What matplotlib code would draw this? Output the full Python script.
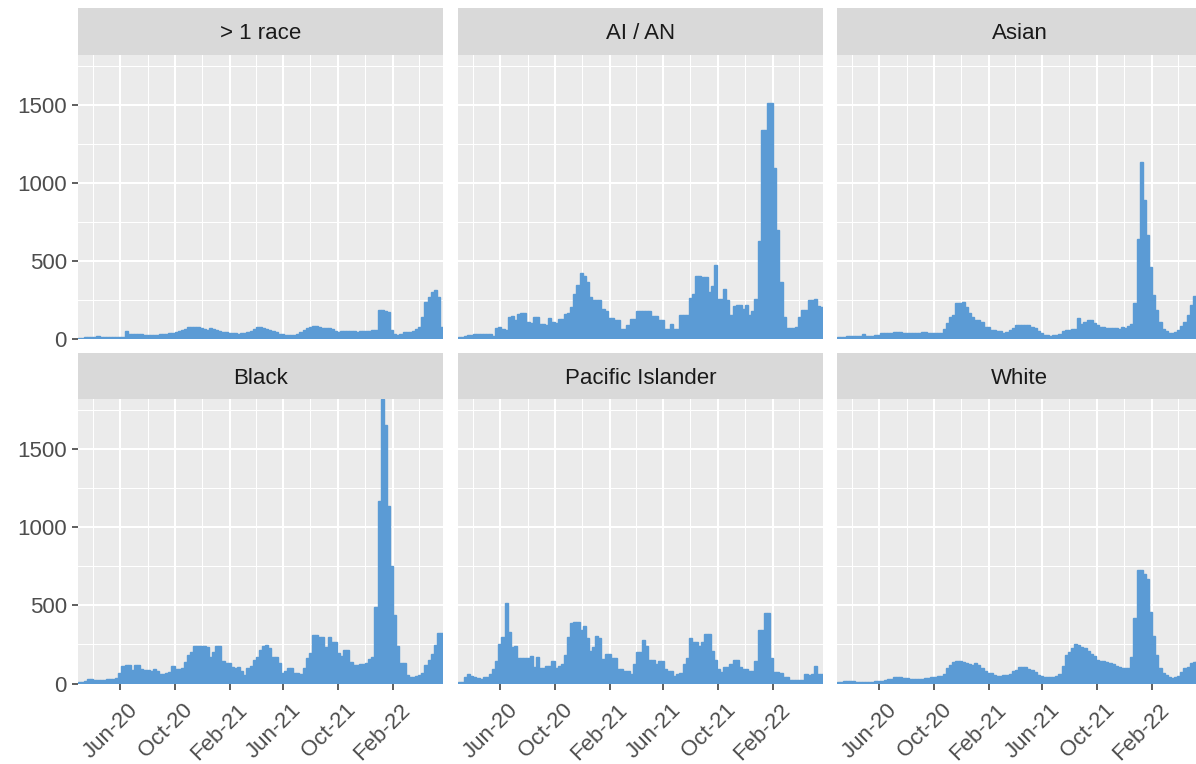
import matplotlib
matplotlib.use("Agg")
import matplotlib.pyplot as plt
import pandas as pd
from matplotlib.ticker import FixedLocator
from matplotlib.transforms import ScaledTranslation

# weekly bars, one per week from early March 2020
weeks = pd.date_range("2020-03-01", periods=117, freq="7D")

xtick_dates = pd.to_datetime(["2020-06-01", "2020-10-01", "2021-02-01",
                              "2021-06-01", "2021-10-01", "2022-02-01"])
xtick_labels = ["Jun-20", "Oct-20", "Feb-21", "Jun-21", "Oct-21", "Feb-22"]
xminor_dates = pd.to_datetime(["2020-04-01", "2020-08-01", "2020-12-01",
                               "2021-04-01", "2021-08-01", "2021-12-01", "2022-04-01"])

race_multi = [
    5, 6, 8, 10, 12, 14, 15, 13, 12, 11,
    10, 10, 11, 12, 12, 48, 30, 29, 28, 28,
    27, 25, 24, 23, 24, 25, 27, 29, 32, 35,
    37, 42, 50, 58, 65, 72, 76, 74, 72, 66,
    60, 55, 68, 64, 56, 48, 42, 40, 38, 36,
    35, 32, 34, 38, 44, 52, 62, 76, 74, 66,
    62, 56, 48, 40, 32, 28, 26, 23, 22, 24,
    30, 40, 55, 68, 78, 84, 84, 78, 70, 68,
    70, 60, 50, 46, 50, 50, 48, 49, 47, 46,
    48, 48, 50, 52, 56, 57, 186, 185, 180, 172,
    55, 32, 25, 28, 40, 42, 42, 50, 60, 75,
    138, 234, 270, 298, 313, 266, 75,
]

ai_an = [
    10, 12, 20, 22, 25, 27, 28, 30, 32, 31,
    30, 20, 70, 72, 62, 58, 140, 145, 118, 160,
    165, 162, 105, 100, 140, 142, 95, 92, 90, 132,
    105, 103, 124, 125, 160, 162, 203, 289, 343, 424,
    400, 364, 268, 250, 246, 246, 190, 178, 135, 135,
    118, 118, 64, 64, 86, 128, 128, 178, 178, 176,
    176, 178, 143, 143, 118, 118, 64, 64, 94, 64,
    64, 150, 150, 150, 263, 289, 400, 400, 396, 396,
    300, 336, 475, 257, 253, 321, 250, 150, 209, 218,
    219, 194, 219, 150, 179, 258, 628, 1340, 1340, 1517,
    1517, 1100, 697, 365, 140, 70, 70, 70, 76, 140,
    183, 183, 247, 250, 252, 209, 205,
]

asian = [
    12, 12, 13, 18, 18, 16, 16, 16, 27, 20,
    16, 16, 22, 22, 39, 39, 37, 37, 42, 42,
    42, 37, 37, 37, 39, 39, 39, 44, 44, 39,
    39, 39, 39, 39, 60, 100, 140, 151, 230, 230,
    234, 204, 162, 140, 119, 119, 108, 76, 76, 59,
    55, 48, 48, 39, 45, 55, 70, 90, 91, 91,
    91, 88, 76, 70, 50, 35, 22, 22, 20, 22,
    25, 27, 50, 55, 58, 63, 65, 130, 93, 110,
    119, 119, 102, 90, 76, 74, 70, 70, 70, 68,
    65, 76, 70, 80, 93, 232, 643, 1134, 894, 664,
    461, 284, 187, 108, 60, 50, 37, 37, 40, 55,
    80, 110, 155, 215, 273, 275, 270,
]

black = [
    12, 12, 14, 27, 27, 25, 22, 22, 22, 29,
    29, 29, 35, 70, 110, 119, 119, 87, 119, 119,
    90, 87, 85, 80, 91, 80, 61, 61, 65, 76,
    112, 93, 93, 98, 140, 180, 204, 241, 241, 241,
    241, 235, 169, 204, 241, 241, 146, 134, 130, 108,
    102, 108, 80, 55, 102, 115, 150, 172, 215, 240,
    247, 226, 172, 172, 130, 70, 80, 98, 98, 65,
    65, 63, 98, 162, 198, 311, 311, 300, 300, 236,
    300, 264, 264, 198, 179, 215, 215, 140, 119, 119,
    125, 125, 134, 160, 172, 493, 1168, 1820, 1654, 1140,
    750, 440, 241, 134, 134, 55, 39, 39, 48, 55,
    70, 119, 151, 190, 247, 326, 326,
]

pacific = [
    12, 12, 40, 61, 50, 44, 33, 29, 40, 44,
    60, 93, 147, 254, 300, 519, 333, 236, 240, 162,
    162, 162, 162, 177, 108, 172, 97, 97, 114, 114,
    144, 102, 112, 123, 180, 300, 386, 393, 393, 343,
    369, 290, 209, 236, 305, 290, 155, 189, 189, 166,
    166, 91, 91, 82, 82, 59, 123, 204, 204, 279,
    240, 151, 151, 123, 144, 144, 91, 82, 82, 48,
    61, 65, 125, 162, 294, 269, 269, 243, 269, 318,
    318, 209, 151, 91, 76, 104, 104, 125, 151, 151,
    104, 91, 91, 82, 82, 144, 343, 343, 451, 451,
    162, 76, 76, 65, 44, 44, 22, 22, 22, 22,
    22, 61, 55, 61, 112, 59, 59,
]

white = [
    10, 10, 18, 18, 18, 14, 12, 12, 12, 12,
    12, 12, 14, 18, 18, 22, 31, 31, 40, 40,
    40, 36, 35, 32, 28, 27, 27, 28, 35, 36,
    44, 44, 46, 48, 60, 97, 120, 135, 145, 145,
    140, 130, 125, 119, 134, 120, 97, 80, 70, 65,
    55, 50, 50, 52, 55, 60, 80, 85, 104, 104,
    104, 90, 87, 75, 55, 50, 42, 40, 40, 40,
    45, 60, 110, 183, 200, 225, 254, 245, 233, 225,
    211, 190, 176, 150, 145, 145, 140, 134, 125, 112,
    105, 97, 101, 101, 172, 418, 725, 729, 700, 669,
    461, 305, 183, 100, 70, 55, 42, 38, 40, 48,
    76, 100, 108, 130, 140, 145, 150,
]

panel_titles = ["> 1 race", "AI / AN", "Asian", "Black", "Pacific Islander", "White"]
panel_values = [race_multi, ai_an, asian, black, pacific, white]

y_major = [0, 500, 1000, 1500]
y_minor = [250, 750, 1250, 1750]
Y_TOP = 1823

BAR = "#5B9BD5"
PANEL_BG = "#EBEBEB"
STRIP_BG = "#D9D9D9"

plt.rcParams["font.family"] = ["Liberation Sans", "DejaVu Sans"]

W, H = 1196, 764
fig = plt.figure(figsize=(W / 100, H / 100), dpi=100)

col_x = [77.7, 457.7, 836.7]
panel_w = 365.5
# (strip top, panel top, panel bottom) in pixels from the top
rows = [(8.0, 55.0, 338.7), (353.3, 399.0, 683.5)]

label_shift = ScaledTranslation(7 / 100, 0, fig.dpi_scale_trans)


def rect(x0, y0, x1, y1):
    return [x0 / W, 1 - y1 / H, (x1 - x0) / W, (y1 - y0) / H]


for k, (title, vals) in enumerate(zip(panel_titles, panel_values)):
    r, c = divmod(k, 3)
    x0 = col_x[c]
    s_top, p_top, p_bot = rows[r]

    ax = fig.add_axes(rect(x0, p_top, x0 + panel_w, p_bot))
    ax.set_facecolor(PANEL_BG)
    for sp in ax.spines.values():
        sp.set_visible(False)

    ax.bar(weeks, vals, width=7, align="center", color=BAR,
           edgecolor=BAR, linewidth=1.0, zorder=2)

    ax.set_xlim(weeks[0] - pd.Timedelta(days=3.5), weeks[-1] + pd.Timedelta(days=3.5))
    ax.set_ylim(0, Y_TOP)

    ax.set_xticks(xtick_dates)
    ax.set_xticks(xminor_dates, minor=True)
    ax.yaxis.set_major_locator(FixedLocator(y_major))
    ax.yaxis.set_minor_locator(FixedLocator(y_minor))

    ax.grid(which="major", color="white", linewidth=1.5, zorder=0)
    ax.grid(which="minor", color="white", linewidth=0.75, zorder=0)
    ax.set_axisbelow(True)

    ax.tick_params(which="minor", length=0)
    ax.tick_params(which="major", length=4.3, width=1.1, color="#333333",
                   labelcolor="#4D4D4D", labelsize=16, pad=3.5)

    if r == 0:
        ax.set_xticklabels([])
        ax.tick_params(axis="x", which="major", length=0, labelbottom=False)
    else:
        ax.set_xticklabels(xtick_labels, rotation=45, ha="right", va="top",
                           rotation_mode="anchor")
        ax.tick_params(axis="x", which="major", pad=7.2)
        for lab in ax.get_xticklabels():
            lab.set_transform(lab.get_transform() + label_shift)
    if c != 0:
        ax.tick_params(axis="y", which="major", length=0, labelleft=False)

    strip = fig.add_axes(rect(x0, s_top, x0 + panel_w, p_top))
    strip.set_facecolor(STRIP_BG)
    strip.set_xticks([])
    strip.set_yticks([])
    for sp in strip.spines.values():
        sp.set_visible(False)
    strip.text(0.5, 0.45, title, ha="center", va="center",
               fontsize=16, color="#1A1A1A", transform=strip.transAxes)

fig.savefig("out.png", dpi=100)
